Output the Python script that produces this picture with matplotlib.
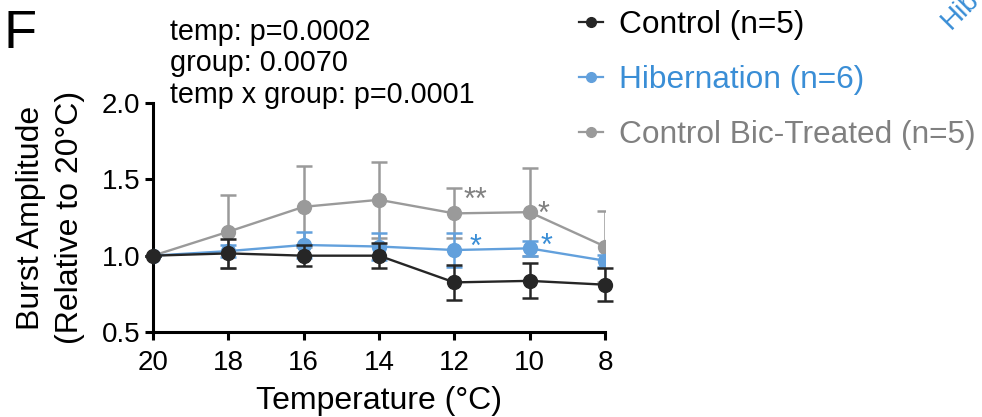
import numpy as np
import matplotlib.pyplot as plt
from matplotlib.lines import Line2D

plt.rcParams['font.family'] = ['Liberation Sans', 'DejaVu Sans']

temps = [20, 18, 16, 14, 12, 10, 8]

# mean +/- SEM, normalised to 20 C
ctrl_mean = [1.00, 1.015, 1.00, 1.00, 0.825, 0.835, 0.81]
ctrl_sem = [0.0, 0.095, 0.07, 0.08, 0.115, 0.115, 0.11]

hib_mean = [1.00, 1.03, 1.07, 1.06, 1.037, 1.048, 0.967]
hib_sem = [0.0, 0.04, 0.085, 0.09, 0.11, 0.05, 0.04]

bic_mean = [1.00, 1.157, 1.32, 1.366, 1.277, 1.285, 1.06]
bic_sem = [0.0, 0.24, 0.265, 0.25, 0.163, 0.29, 0.23]

labels = ['Control (n=5)', 'Hibernation (n=6)', 'Control Bic-Treated (n=5)']
c_ctrl = '#262626'
c_hib = '#62a0dc'
c_bic = '#9a9a9a'
c_hib_txt = '#3a8ed6'
c_bic_txt = '#808080'

fig = plt.figure(figsize=(9.82, 4.17), dpi=100)
ax = fig.add_axes([0.1558, 0.2038, 0.4603, 0.5492])

kw = dict(marker='o', markersize=10, lw=1.7, capsize=5.5, capthick=1.8, elinewidth=1.8)
ax.errorbar(temps, bic_mean, yerr=bic_sem, color=c_bic, zorder=2, **kw)
ax.errorbar(temps, hib_mean, yerr=hib_sem, color=c_hib, zorder=3, **kw)
ax.errorbar(temps, ctrl_mean, yerr=ctrl_sem, color=c_ctrl, zorder=4, clip_on=False, **kw)

# post-hoc significance marks
ax.annotate('**', xy=(12, bic_mean[4]), xytext=(7, -2), textcoords='offset points',
            fontsize=22, color=c_bic_txt, ha='left', va='bottom')
ax.annotate('*', xy=(10, bic_mean[5]), xytext=(6, -13), textcoords='offset points',
            fontsize=22, color=c_bic_txt, ha='left', va='bottom')
ax.annotate('*', xy=(12, hib_mean[4]), xytext=(11, -9), textcoords='offset points',
            fontsize=22, color=c_hib_txt, ha='left', va='bottom')
ax.annotate('*', xy=(10, hib_mean[5]), xytext=(8, -10), textcoords='offset points',
            fontsize=22, color=c_hib_txt, ha='left', va='bottom')

ax.set_xlim(20, 8)
ax.set_ylim(0.5, 2.0)
ax.set_xticks(temps)
ax.set_yticks([0.5, 1.0, 1.5, 2.0])
ax.set_yticklabels(['0.5', '1.0', '1.5', '2.0'])
for s in ['top', 'right']:
    ax.spines[s].set_visible(False)
for s in ['left', 'bottom']:
    ax.spines[s].set_linewidth(2.2)
ax.tick_params(width=2.2, length=6, labelsize=20)
ax.tick_params(axis='x', pad=7)
ax.tick_params(axis='y', pad=3)
ax.set_xlabel('Temperature (°C)', fontsize=23, labelpad=7)
ax.set_ylabel('Burst Amplitude\n(Relative to 20°C)', fontsize=23, labelpad=12, linespacing=1.4)

fig.text(0.004, 0.885, 'F', fontsize=39)
fig.text(0.173, 0.958, 'temp: p=0.0002\ngroup: 0.0070\ntemp x group: p=0.0001',
         fontsize=20.7, va='top', linespacing=1.18)

handles = [Line2D([], [], color=c, marker='o', markersize=7, lw=1.6)
           for c in (c_ctrl, c_hib, c_bic)]
leg = fig.legend(handles, labels, loc='upper left', bbox_to_anchor=(0.561, 1.045),
                 frameon=False, fontsize=22.8, handlelength=0.75, handletextpad=0.5,
                 labelspacing=0.8)
for t, c in zip(leg.get_texts(), ('black', c_hib_txt, c_bic_txt)):
    t.set_color(c)

fig.text(0.973, 0.918, 'Hibernation', fontsize=20, color=c_hib_txt, rotation=45,
         ha='left', va='bottom', rotation_mode='anchor')

fig.savefig('out.png', dpi=100)
